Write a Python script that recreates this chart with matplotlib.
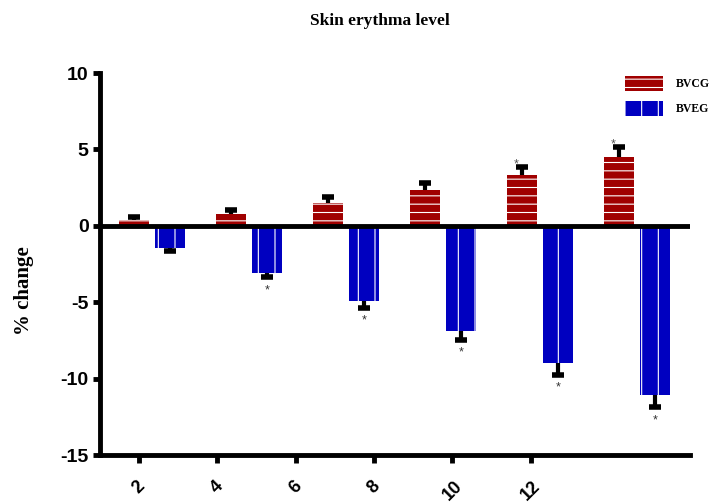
import matplotlib
matplotlib.use("Agg")
import matplotlib.pyplot as plt
import numpy as np

weeks = [2, 4, 6, 8, 10, 12]
bvcg = [0.4, 0.8, 1.5, 2.35, 3.3, 4.5]
bvcg_err = [0.15, 0.25, 0.4, 0.45, 0.55, 0.65]
bveg = [-1.45, -3.1, -4.9, -6.85, -9.0, -11.05]
bveg_err = [0.2, 0.25, 0.45, 0.6, 0.75, 0.8]
bvcg_sig = [False, False, False, False, True, True]
bveg_sig = [False, True, True, True, True, True]

red = '#a00000'
blue = '#0000c0'
sans = 'Liberation Sans'
serif = 'Liberation Serif'

plt.rcParams['hatch.linewidth'] = 0.8

fig = plt.figure(figsize=(7.23, 5.04), dpi=100)
ax = fig.add_axes([0.138, 0.097, 0.816, 0.758])

x = np.arange(len(weeks))
w = 0.31
off = 0.186

ax.bar(x - off, bvcg, w, color=red, edgecolor='white', linewidth=0, hatch='--', label='BVCG', zorder=2)
ax.bar(x + off, bveg, w, color=blue, edgecolor='white', linewidth=0, hatch='|', label='BVEG', zorder=2)

# one-sided error bars, cap only at the far end
red_end = np.array(bvcg) + np.array(bvcg_err)
blue_end = np.array(bveg) - np.array(bveg_err)
ax.vlines(x - off, bvcg, red_end, color='black', lw=3, zorder=3)
ax.vlines(x + off, bveg, blue_end, color='black', lw=3, zorder=3)
ax.plot(x - off, red_end, ls='none', marker='_', ms=9, mew=4, color='black', zorder=3)
ax.plot(x + off, blue_end, ls='none', marker='_', ms=9, mew=4, color='black', zorder=3)

for i in range(len(weeks)):
    if bveg_sig[i]:
        ax.text(x[i] + off, blue_end[i] - 0.85, '*', ha='center', va='center',
                fontsize=9, color='#333333', family=sans)
    if bvcg_sig[i]:
        ax.text(x[i] - off - 0.06, red_end[i] + 0.2, '*', ha='center', va='center',
                fontsize=9, color='#555555', family=sans)

ax.axhline(0, color='black', lw=3.5, zorder=4)

ax.set_xlim(-0.536, 5.546)
ax.set_ylim(-15, 10)
ax.set_yticks([-15, -10, -5, 0, 5, 10])
ax.set_yticklabels(['-15', '-10', '-5', '0', '5', '10'], fontsize=14, fontweight='bold', family=sans)
ax.set_xticks(np.linspace(-0.134, 3.907, len(weeks)))
ax.set_xticklabels([str(v) for v in weeks], fontsize=13, fontweight='bold', family=sans,
                   rotation=45, ha='center', va='top')

for s in ['top', 'right']:
    ax.spines[s].set_visible(False)
for s in ['left', 'bottom']:
    ax.spines[s].set_linewidth(3.5)
ax.tick_params(axis='y', length=5, width=3.5, pad=3)
ax.tick_params(axis='x', length=6, width=3.5, pad=10)

ax.set_ylabel('% change', fontsize=15, fontweight='bold', family=serif)
ax.yaxis.set_label_coords(-0.112, 0.43)
fig.suptitle('Skin erythma level', x=0.525, y=0.975, fontsize=12.5, fontweight='bold', family=serif)

ax.legend(loc='upper left', bbox_to_anchor=(0.85, 0.87), bbox_transform=fig.transFigure,
          frameon=False, prop={'family': serif, 'weight': 'bold', 'size': 8.5},
          handlelength=3.2, handleheight=1.5, labelspacing=0.9, handletextpad=1.1)

fig.savefig('out.png', dpi=100)
